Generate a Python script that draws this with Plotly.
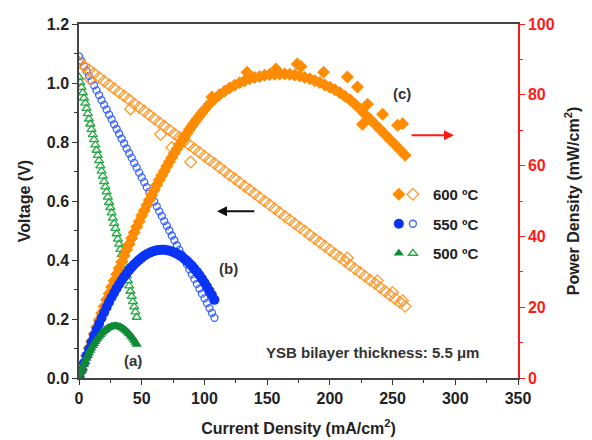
import plotly.graph_objects as go

# ---------------- data ----------------
# 600 C : voltage (open diamonds)
cd600_v = [0, 4, 8, 9, 12, 16, 20, 24, 28, 32, 36, 40, 41, 44, 48, 52, 56, 60, 64, 65,
           68, 72, 74, 76, 80, 84, 88, 89, 92, 96, 100, 104, 108, 112, 116, 120, 124, 128,
           132, 136, 140, 144, 148, 152, 156, 160, 164, 168, 172, 176, 180, 184, 188, 192,
           196, 200, 204, 208, 212, 214, 216, 220, 224, 228, 232, 236, 238, 240, 244, 248,
           250, 252, 256, 258, 260]
v600 = [1.070, 1.057, 1.045, 1.013, 1.032, 1.019, 1.006, 0.994, 0.981, 0.968, 0.956, 0.943,
        0.912, 0.930, 0.917, 0.905, 0.892, 0.879, 0.866, 0.826, 0.854, 0.841, 0.781, 0.828,
        0.816, 0.803, 0.790, 0.732, 0.777, 0.765, 0.752, 0.739, 0.727, 0.714, 0.701, 0.688,
        0.676, 0.663, 0.650, 0.638, 0.625, 0.612, 0.599, 0.587, 0.574, 0.561, 0.548, 0.536,
        0.523, 0.510, 0.498, 0.485, 0.472, 0.459, 0.447, 0.434, 0.421, 0.409, 0.396, 0.407,
        0.383, 0.370, 0.358, 0.345, 0.332, 0.320, 0.330, 0.307, 0.294, 0.281, 0.290, 0.269,
        0.256, 0.262, 0.243]

# 600 C : power density (filled diamonds)
cd600_p = [0, 2, 4, 6, 8, 10, 12, 14, 16, 18, 20, 22, 24, 26, 28, 30, 32, 34, 36, 38, 40,
           42, 44, 46, 48, 50, 52, 54, 56, 58, 60, 62, 64, 66, 68, 70, 72, 74, 76, 78, 80,
           82, 84, 86, 88, 90, 92, 94, 96, 98, 100, 104, 106, 108, 112, 116, 120, 124, 128,
           132, 134, 136, 140, 144, 148, 152, 156, 157, 160, 164, 168, 172, 174, 176, 177,
           180, 184, 188, 192, 195, 196, 200, 204, 208, 212, 214, 216, 220, 222, 224, 226,
           228, 230, 232, 236, 240, 242, 244, 248, 252, 254, 256, 258, 260]
pd600 = [0, 2.1, 4.2, 6.3, 8.4, 10.4, 12.4, 14.4, 16.3, 18.3, 20.2, 22.1, 23.9, 25.7, 27.5,
         29.3, 31.0, 32.8, 34.5, 36.2, 37.8, 39.5, 41.1, 42.7, 44.2, 45.8, 47.3, 48.8, 50.3,
         51.7, 53.1, 54.5, 55.9, 57.2, 58.5, 59.8, 61.1, 62.3, 63.5, 64.7, 65.9, 67.0, 68.1,
         69.1, 70.2, 71.2, 72.2, 73.1, 74.0, 74.9, 75.8, 77.4, 79.4, 78.8, 80.0, 81.0, 81.9,
         82.7, 83.4, 84.0, 86.4, 84.5, 84.9, 85.2, 85.5, 85.7, 85.8, 87.3, 85.9, 85.9, 85.8,
         85.6, 88.7, 85.3, 88.0, 84.9, 84.5, 84.0, 83.5, 86.4, 82.8, 82.1, 81.4, 80.6, 79.6,
         85.0, 78.6, 77.3, 82.2, 76.0, 71.7, 74.5, 77.3, 73.1, 71.7, 70.3, 74.5, 68.8, 67.3,
         65.9, 71.4, 64.4, 71.8, 62.9]

# 550 C
cd550 = [0, 2, 4, 6, 8, 10, 12, 14, 16, 18, 20, 22, 24, 26, 28, 30, 32, 34, 36, 38, 40, 42,
         44, 46, 48, 50, 52, 54, 56, 58, 60, 62, 64, 66, 68, 70, 72, 74, 76, 78, 80, 82, 84,
         86, 88, 90, 92, 94, 96, 98, 100, 102, 104, 106, 108]
v550 = [1.090, 1.074, 1.057, 1.041, 1.024, 1.008, 0.992, 0.975, 0.959, 0.942, 0.926, 0.910,
        0.893, 0.877, 0.860, 0.844, 0.828, 0.811, 0.795, 0.778, 0.762, 0.746, 0.729, 0.713,
        0.696, 0.680, 0.664, 0.647, 0.631, 0.614, 0.598, 0.582, 0.565, 0.549, 0.532, 0.516,
        0.500, 0.483, 0.467, 0.450, 0.434, 0.418, 0.401, 0.385, 0.368, 0.352, 0.336, 0.319,
        0.303, 0.286, 0.270, 0.254, 0.237, 0.221, 0.204]
pd550 = [0, 2.15, 4.23, 6.24, 8.20, 10.08, 11.90, 13.65, 15.34, 16.96, 18.52, 20.01, 21.44,
         22.80, 24.09, 25.32, 26.48, 27.58, 28.61, 29.58, 30.48, 31.32, 32.09, 32.79, 33.43,
         34.00, 34.51, 34.95, 35.33, 35.64, 35.88, 36.06, 36.17, 36.22, 36.20, 36.12, 35.97,
         35.75, 35.48, 35.13, 34.72, 34.24, 33.70, 33.09, 32.42, 31.68, 30.87, 30.00, 29.08,
         28.06, 27.00, 25.87, 24.67, 23.41, 22.08]

# 500 C
cd500 = [0, 1, 2, 3, 4, 5, 6, 7, 8, 9, 10, 11, 12, 13, 14, 15, 16, 17, 18, 19, 20, 21, 22,
         23, 24, 25, 26, 27, 28, 29, 30, 31, 32, 33, 34, 35, 36, 37, 38, 39, 40, 41, 42, 43,
         44, 45, 46]
v500 = [1.020, 1.002, 0.985, 0.967, 0.949, 0.932, 0.914, 0.896, 0.878, 0.861, 0.843, 0.825,
        0.808, 0.790, 0.772, 0.755, 0.737, 0.719, 0.701, 0.684, 0.666, 0.648, 0.631, 0.613,
        0.595, 0.578, 0.560, 0.542, 0.524, 0.507, 0.489, 0.471, 0.454, 0.436, 0.418, 0.401,
        0.383, 0.365, 0.347, 0.330, 0.312, 0.294, 0.277, 0.259, 0.241, 0.224, 0.206]
pd500 = [0, 1.00, 1.97, 2.90, 3.80, 4.66, 5.48, 6.27, 7.03, 7.75, 8.43, 9.08, 9.69, 10.27,
         10.81, 11.32, 11.79, 12.23, 12.63, 12.99, 13.32, 13.61, 13.87, 14.10, 14.28, 14.44,
         14.56, 14.64, 14.69, 14.71, 14.67, 14.61, 14.51, 14.39, 14.22, 14.02, 13.78, 13.51,
         13.20, 12.86, 12.48, 12.07, 11.62, 11.13, 10.61, 10.06, 9.47]

labels = ["600 ºC", "550 ºC", "500 ºC"]
x_ticks = [0, 50, 100, 150, 200, 250, 300, 350]

# ---------------- styling ----------------
FONT = "Arial, Liberation Sans, sans-serif"
ORANGE = "#FF8C00"
ORANGE_O = "#FF9A2E"
BLUE = "#0A34F5"
BLUE_O = "#3B63FF"
GREEN = "#0E8A35"
GREEN_O = "#26A844"
RED = "#FF1A1A"
DARK = "#222222"

fig = go.Figure()

# voltage (open symbols, left axis)
fig.add_trace(go.Scatter(x=cd500, y=v500, mode="markers", name=labels[2], legend="legend2",
                         legendrank=3, legendgroup="g500",
                         marker=dict(symbol="triangle-up-open", size=8, color=GREEN_O,
                                     line=dict(width=1.3, color=GREEN_O))))
fig.add_trace(go.Scatter(x=cd550, y=v550, mode="markers", name=labels[1], legend="legend2",
                         legendrank=2, legendgroup="g550",
                         marker=dict(symbol="circle-open", size=7, color=BLUE_O,
                                     line=dict(width=1.3, color=BLUE_O))))
fig.add_trace(go.Scatter(x=cd600_v, y=v600, mode="markers", name=labels[0], legend="legend2",
                         legendrank=1, legendgroup="g600",
                         marker=dict(symbol="diamond-open", size=9, color=ORANGE_O,
                                     line=dict(width=1.3, color=ORANGE_O))))

# power density (filled symbols, right axis)
fig.add_trace(go.Scatter(x=cd600_p, y=pd600, mode="markers", name=" ", yaxis="y2",
                         legend="legend", legendrank=1, legendgroup="h600",
                         marker=dict(symbol="diamond", size=10, color=ORANGE, line=dict(width=0))))
fig.add_trace(go.Scatter(x=cd550, y=pd550, mode="markers", name=" ", yaxis="y2",
                         legend="legend", legendrank=2, legendgroup="h550",
                         marker=dict(symbol="circle", size=10, color=BLUE, line=dict(width=0))))
fig.add_trace(go.Scatter(x=cd500, y=pd500, mode="markers", name=" ", yaxis="y2",
                         legend="legend", legendrank=3, legendgroup="h500",
                         marker=dict(symbol="triangle-up", size=9, color=GREEN, line=dict(width=0))))

tick_font = dict(family=FONT, size=16, color=DARK, weight="bold")
title_font = dict(family=FONT, size=16, color=DARK, weight="bold")
leg_font = dict(family=FONT, size=15, color=DARK, weight="bold")

fig.update_layout(
    width=584, height=432,
    margin=dict(l=71, r=74, t=16, b=62, autoexpand=False),
    paper_bgcolor="white", plot_bgcolor="white",
    font=dict(family=FONT, color=DARK),
    xaxis=dict(range=[0, 350], tickvals=x_ticks, ticks="outside", ticklen=5, tickwidth=1.3,
               tickcolor="#333", showline=True, linecolor="#444", linewidth=1.5, mirror=True,
               showgrid=False, zeroline=False, tickfont=tick_font, automargin=False,
               minor=dict(dtick=25, ticks="outside", ticklen=3, tickwidth=1.2, tickcolor="#333"),
               title=dict(text="Current Density (mA/cm<sup>2</sup>)", font=title_font, standoff=17)),
    yaxis=dict(range=[0, 1.2], dtick=0.2, tickformat=".1f", ticks="outside", ticklen=5,
               tickwidth=1.3, tickcolor="#333", showline=True, linecolor="#444", linewidth=1.5,
               showgrid=False, zeroline=False, tickfont=tick_font, automargin=False,
               minor=dict(dtick=0.1, ticks="outside", ticklen=3, tickwidth=1.2, tickcolor="#333"),
               title=dict(text="Voltage (V)", font=title_font, standoff=12)),
    yaxis2=dict(range=[0, 100], dtick=20, overlaying="y", side="right", ticks="outside",
                ticklen=5, tickwidth=1.3, tickcolor=RED, showline=True, linecolor=RED,
                linewidth=1.5, showgrid=False, zeroline=False, automargin=False,
                tickfont=dict(family=FONT, size=16, color=RED, weight="bold"),
                minor=dict(dtick=10, ticks="outside", ticklen=3, tickwidth=1.2, tickcolor=RED),
                title=dict(text="Power Density (mW/cm<sup>2</sup>)", font=title_font, standoff=14)),
    legend=dict(x=0.683, y=0.565, xanchor="left", yanchor="top", traceorder="grouped",
                tracegroupgap=7, itemwidth=30, bgcolor="rgba(0,0,0,0)", font=leg_font),
    legend2=dict(x=0.715, y=0.565, xanchor="left", yanchor="top", traceorder="grouped",
                 tracegroupgap=7, itemwidth=30, bgcolor="rgba(0,0,0,0)", font=leg_font),
)

lab_font = dict(family=FONT, size=15, color="#333", weight="bold")
fig.add_annotation(x=43, y=0.061, text="(a)", showarrow=False, font=lab_font)
fig.add_annotation(x=119, y=0.37, text="(b)", showarrow=False, font=lab_font)
fig.add_annotation(x=257.5, y=0.966, text="(c)", showarrow=False, font=lab_font)
fig.add_annotation(x=233.6, y=0.088, text="YSB bilayer thickness: 5.5 μm", showarrow=False,
                   xanchor="center", font=dict(family=FONT, size=15, color="#333", weight="bold"))

# arrows pointing to the relevant axes
fig.add_annotation(x=110, y=0.565, ax=141, ay=0.565, xref="x", yref="y", axref="x", ayref="y",
                   text="", showarrow=True, arrowhead=2, arrowsize=1, arrowwidth=2,
                   arrowcolor="#111")
fig.add_annotation(x=299, y=0.823, ax=264, ay=0.823, xref="x", yref="y", axref="x", ayref="y",
                   text="", showarrow=True, arrowhead=2, arrowsize=1, arrowwidth=2,
                   arrowcolor=RED)

fig.write_html("out.html")
